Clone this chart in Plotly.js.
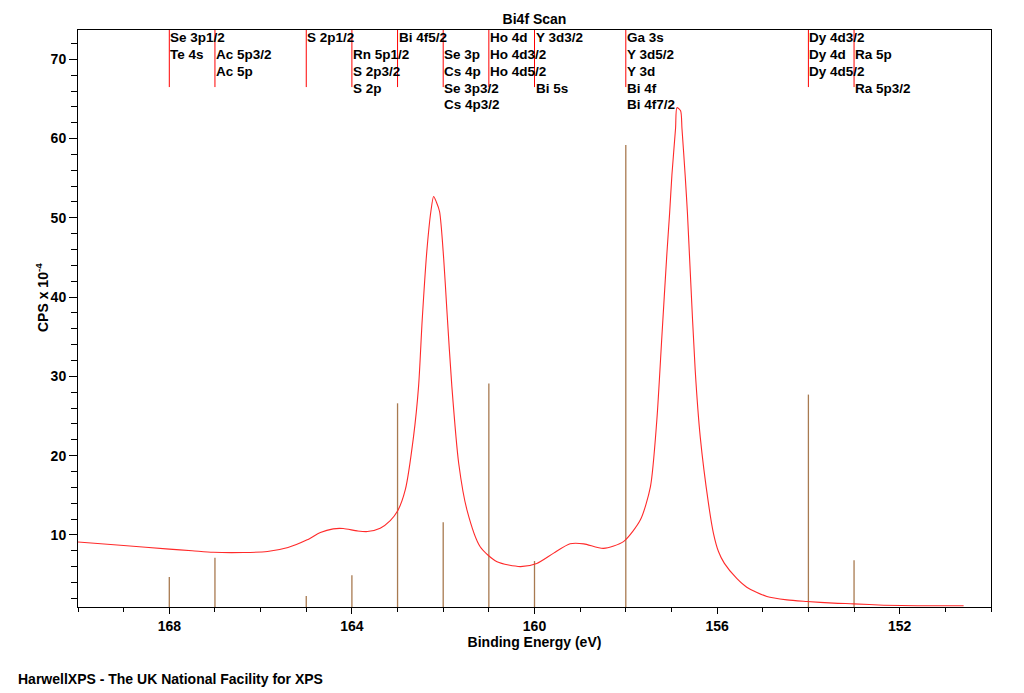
<!DOCTYPE html>
<html>
<head>
<meta charset="utf-8">
<script src="https://cdn.plot.ly/plotly-3.0.1.min.js"></script>
<style>html,body{margin:0;padding:0;background:#fff;}#chart{width:1024px;height:693px;}</style>
</head>
<body>
<div id="chart"></div>
<script>
// Measured spectrum: binding energy (eV) and counts (CPS x 10^-4)
var bindingEnergy = [170.0, 169.0, 168.0, 167.5, 167.04, 166.38, 165.85, 165.4, 164.98, 164.69, 164.41, 164.19, 163.88, 163.66, 163.38, 163.16, 163.0, 162.83, 162.65, 162.54, 162.46, 162.36, 162.27, 162.21, 162.15, 162.08, 161.99, 161.92, 161.81, 161.66, 161.48, 161.19, 160.82, 160.31, 159.95, 159.58, 159.22, 158.92, 158.49, 158.05, 157.68, 157.46, 157.32, 157.21, 157.10, 157.04, 156.99, 156.91, 156.88, 156.80, 156.77, 156.70, 156.65, 156.59, 156.48, 156.37, 156.19, 156.08, 155.97, 155.84, 155.57, 155.35, 154.91, 154.47, 154.03, 153.45, 153.01, 152.35, 151.62, 150.6];
var cps = [9.1, 8.65, 8.2, 8.0, 7.8, 7.77, 7.9, 8.4, 9.37, 10.3, 10.76, 10.8, 10.5, 10.42, 10.84, 11.8, 13.0, 15.7, 22.4, 28.7, 37.1, 45.7, 50.8, 52.7, 52.0, 50.8, 44.9, 38.4, 28.7, 19.0, 13.15, 8.5, 6.6, 6.0, 6.4, 7.7, 8.87, 8.87, 8.3, 9.15, 11.9, 16.1, 24.5, 35.0, 45.5, 50.6, 55.4, 61.3, 63.9, 63.5, 61.3, 55.4, 50.6, 43.4, 30.8, 22.4, 14.0, 10.2, 7.9, 6.4, 4.5, 3.4, 2.22, 1.8, 1.6, 1.39, 1.3, 1.13, 1.05, 1.05];

// Reference line positions (eV) and their stem heights
var lineEnergy = [168, 167, 165, 164, 163, 162, 161, 160, 158, 154, 153];
var stemHeight = [4.7, 7.1, 2.3, 4.9, 26.6, 11.6, 29.1, 6.7, 59.2, 27.7, 6.8];

// Peak labels: text, energy of line, row (1 = top)
var labelText = ["Se 3p1/2", "Te 4s", "Ac 5p3/2", "Ac 5p", "S 2p1/2", "Rn 5p1/2", "S 2p3/2", "S 2p", "Bi 4f5/2", "Se 3p", "Cs 4p", "Se 3p3/2", "Cs 4p3/2", "Ho 4d", "Ho 4d3/2", "Ho 4d5/2", "Y 3d3/2", "Bi 5s", "Ga 3s", "Y 3d5/2", "Y 3d", "Bi 4f", "Bi 4f7/2", "Dy 4d3/2", "Dy 4d", "Dy 4d5/2", "Ra 5p", "Ra 5p3/2"];
var labelEnergy = [168, 168, 167, 167, 165, 164, 164, 164, 163, 162, 162, 162, 162, 161, 161, 161, 160, 160, 158, 158, 158, 158, 158, 154, 154, 154, 153, 153];
var labelRow = [1, 2, 2, 3, 1, 2, 3, 4, 1, 2, 3, 4, 5, 1, 2, 3, 1, 4, 1, 2, 3, 4, 5, 1, 2, 3, 2, 4];

var xTicks = [168, 164, 160, 156, 152];
var yTicks = [10, 20, 30, 40, 50, 60, 70];

var yMin = 0.9, yMax = 73.7;
var markerBottom = 66.5;
var rowY = [72.7, 70.6, 68.45, 66.35, 64.3];

var stemX = [], stemY = [], markX = [], markY = [];
for (var i = 0; i < lineEnergy.length; i++) {
  stemX.push(lineEnergy[i], lineEnergy[i], null);
  stemY.push(0, stemHeight[i], null);
  markX.push(lineEnergy[i], lineEnergy[i], null);
  markY.push(markerBottom, 80, null);
}

var FONT = "Liberation Sans, Arial, sans-serif";

var traces = [
  {x: stemX, y: stemY, type: 'scatter', mode: 'lines', line: {color: '#a87a50', width: 1.3}, hoverinfo: 'skip', showlegend: false},
  {x: markX, y: markY, type: 'scatter', mode: 'lines', line: {color: '#ff0000', width: 1}, hoverinfo: 'skip', showlegend: false},
  {x: bindingEnergy, y: cps, type: 'scatter', mode: 'lines', line: {color: '#ff2a2a', width: 1.1, shape: 'spline', smoothing: 0.7}, showlegend: false}
];

var annotations = [];
for (var j = 0; j < labelText.length; j++) {
  annotations.push({
    x: labelEnergy[j], y: rowY[labelRow[j] - 1], xref: 'x', yref: 'y',
    text: labelText[j], showarrow: false, xanchor: 'left', yanchor: 'middle',
    xshift: -1, font: {family: FONT, size: 13.5, color: '#000', weight: 'bold'}
  });
}
// footer
annotations.push({
  x: (16 - 78) / 913, y: (607 - 679) / 577, xref: 'paper', yref: 'paper',
  text: 'HarwellXPS - The UK National Facility for XPS',
  showarrow: false, xanchor: 'left', yanchor: 'middle',
  font: {family: FONT, size: 14, color: '#000', weight: 'bold'}
});
// y axis title
annotations.push({
  x: (42 - 78) / 913, y: (607 - 298) / 577, xref: 'paper', yref: 'paper',
  text: 'CPS x 10<sup>-4</sup>', textangle: -90,
  showarrow: false, xanchor: 'center', yanchor: 'middle',
  font: {family: FONT, size: 14, color: '#000', weight: 'bold'}
});

var layout = {
  width: 1024, height: 693,
  margin: {l: 78, r: 33, t: 30, b: 86, pad: 0},
  paper_bgcolor: '#fff', plot_bgcolor: '#fff',
  font: {family: FONT, size: 14, color: '#000'},
  title: {text: 'Bi4f Scan', x: 0.5, xref: 'paper', y: 1 - 19 / 693, yref: 'container', yanchor: 'middle', xanchor: 'center',
          font: {family: FONT, size: 14, color: '#000', weight: 'bold'}},
  xaxis: {
    range: [170, 150], autorange: false,
    tickmode: 'array', tickvals: xTicks, ticktext: xTicks.map(String),
    ticks: 'outside', ticklen: 6, tickwidth: 1, tickcolor: '#000',
    minor: {dtick: 1, tick0: 150, ticks: 'outside', ticklen: 4, tickcolor: '#000', tickwidth: 1, showgrid: false},
    showgrid: false, zeroline: false, showline: true, linecolor: '#000', linewidth: 1, mirror: true,
    tickfont: {family: FONT, size: 14, color: '#000', weight: 'bold'},
    title: {text: 'Binding Energy (eV)', standoff: 4, font: {family: FONT, size: 14, color: '#000', weight: 'bold'}}
  },
  yaxis: {
    range: [yMin, yMax], autorange: false,
    tickmode: 'array', tickvals: yTicks, ticktext: yTicks.map(String),
    ticks: 'outside', ticklen: 8, tickwidth: 1, tickcolor: '#000',
    minor: {dtick: 2, tick0: 0, ticks: 'outside', ticklen: 6, tickcolor: '#000', tickwidth: 1, showgrid: false},
    showgrid: false, zeroline: false, showline: true, linecolor: '#000', linewidth: 1, mirror: true,
    tickfont: {family: FONT, size: 14, color: '#000', weight: 'bold'}
  },
  annotations: annotations
};

Plotly.newPlot('chart', traces, layout, {displayModeBar: false, staticPlot: true});
</script>
</body>
</html>
